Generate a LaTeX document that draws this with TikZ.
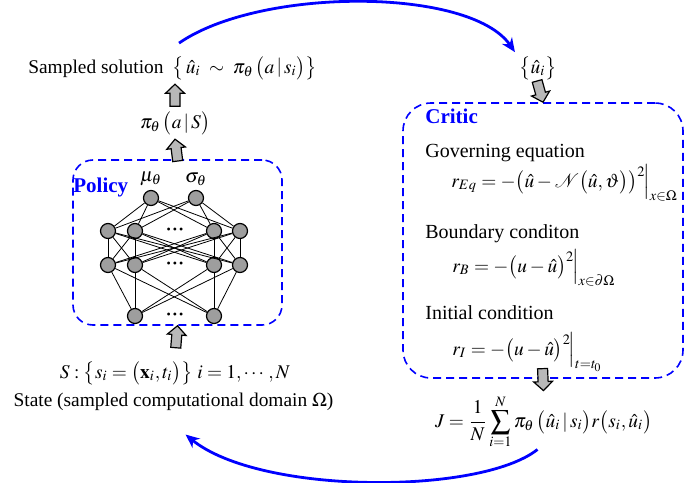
\documentclass[tikz,border=0pt]{standalone}
\usepackage{mathptmx}
\usepackage{amsmath}
\usepackage{fontspec}
\setmainfont{Liberation Serif}
\usepackage{xcolor}
\usepackage{tikz}
\usetikzlibrary{arrows.meta, positioning, calc}

\newcommand{\fs}{\fontsize{9.7}{11.6}\selectfont}
\newcommand{\nndots}{{\fontsize{6}{6}\selectfont\textbullet\hspace{1pt}\textbullet\hspace{1pt}\textbullet}}
% grey block arrow: tip at #2, pointing away from #1
\newcommand{\fatarrow}[2]{%
  \path ($(#2)!11pt!(#1)$) coordinate (fa-b) ($(#2)!4.5pt!(#1)$) coordinate (fa-h);
  \draw[fat] ($(fa-b)!2.5pt!90:(#2)$) -- ($(fa-h)!2.5pt!90:(#2)$) -- ($(fa-h)!4.7pt!90:(#2)$)
    -- (#2) -- ($(fa-h)!4.7pt!-90:(#2)$) -- ($(fa-h)!2.5pt!-90:(#2)$) -- ($(fa-b)!2.5pt!-90:(#2)$) -- cycle;}

\begin{document}
\begin{tikzpicture}[
  x=0.5pt, y=-0.5pt,
  txt/.style    = {font=\fs, inner sep=2pt},
  ctxt/.style   = {font=\fontsize{10}{12}\selectfont, inner sep=2pt},
  ttl/.style    = {font=\fontsize{10.5}{12}\selectfont\bfseries, text=blue, inner sep=2pt},
  dbox/.style   = {draw=blue, dash pattern=on 4pt off 2.5pt, line width=0.8pt, rounded corners=10pt},
  neuron/.style = {circle, draw, fill=black!38, line width=0.6pt, minimum size=7.5pt, inner sep=0pt},
  link/.style   = {line width=0.4pt},
  fat/.style    = {draw, line width=0.6pt, fill=black!28},
  flow/.style   = {draw=blue, line width=1.4pt, -{Stealth[length=7pt, width=6pt]}},
]
\useasboundingbox (0,0) rectangle (685,482);

% Left column - policy
\node[txt, anchor=base west] (sol) at (168,73) {$\bigl\{\,\hat{u}_i\;\sim\;\pi_\theta\,\bigl(a\,|\,s_i\bigr)\bigr\}$};
\node[txt, anchor=base east] (sollab) at (sol.base west) {Sampled solution};
\node[txt, anchor=base] (pi) at (175,128) {$\pi_\theta\,\bigl(a\,|\,S\bigr)$};

\node[dbox, minimum width=104.5pt, minimum height=82.5pt] (policy) at (177.5,242.5) {};
\node[ttl, anchor=base west] (ptitle) at (69,192) {Policy};

% network
\node[neuron, label={[txt]above:$\mu_\theta$}]    (o-1) at (151,198) {};
\node[neuron, label={[txt]above:$\sigma_\theta$}] (o-2) at (196,198) {};
\foreach \x [count=\k] in {108,135,214,240} {
  \node[neuron] (h1-\k) at (\x,231) {};
  \node[neuron] (h2-\k) at (\x,265) {};
}
\node[neuron] (in-1) at (135,316) {};
\node[neuron] (in-2) at (214,316) {};
\node[inner sep=0pt] (dots1) at (175,231) {\nndots};
\node[inner sep=0pt] (dots2) at (175,265) {\nndots};
\node[inner sep=0pt] (dots3) at (175,316) {\nndots};
\foreach \i in {1,...,4} {
  \foreach \j in {1,2} \draw[link] (o-\j) -- (h1-\i);
  \foreach \j in {1,...,4} \draw[link] (h1-\i) -- (h2-\j);
  \foreach \j in {1,2} \draw[link] (h2-\i) -- (in-\j);
}

\node[txt, anchor=base] (state) at (175,378) {$S:\bigl\{s_i=\bigl(\mathbf{x}_i,t_i\bigr)\bigr\}\ i=1,\cdots,N$};
\node[txt, anchor=base] (domain) at (173.5,406) {State (sampled computational domain $\Omega$)};

% Right column - critic
\node[txt, anchor=base] (hatu) at (538,73) {$\bigl\{\hat{u}_i\bigr\}$};
\node[dbox, rounded corners=14pt, minimum width=140pt, minimum height=137.5pt] (critic) at (543,240.5) {};
\node[ttl, anchor=base west] (ctitle) at (421,123) {Critic};
\node[ctxt, anchor=base west] (geq) at (421,157) {Governing equation};
\node[txt, anchor=base west] (req) at (447,187) {$r_{Eq}={-}\bigl(\hat{u}-\mathcal{N}\bigl(\hat{u},\vartheta\bigr)\bigr)^2\!\Big|_{x{\in}\Omega}$};
\node[ctxt, anchor=base west] (bc) at (421,238) {Boundary conditon};
\node[txt, anchor=base west] (rb) at (448,272) {$r_B={-}\bigl(u-\hat{u}\bigr)^2\!\Big|_{x{\in}\partial\Omega}$};
\node[ctxt, anchor=base west] (ic) at (421,319) {Initial condition};
\node[txt, anchor=base west] (ri) at (448,355) {$r_I={-}\bigl(u-\hat{u}\bigr)^2\!\Big|_{t=t_0}$};
\node[txt, anchor=base] (J) at (543.5,427) {$\displaystyle J=\frac{1}{N}\sum_{i=1}^{N}\pi_\theta\,\bigl(\hat{u}_i\,|\,s_i\bigr)r\bigl(s_i,\hat{u}_i\bigr)$};

% Block arrows
\fatarrow{pi.north}{pi.north |- sol.south}
\fatarrow{policy.north}{pi.south}
\fatarrow{state.north}{policy.south}
\fatarrow{hatu.south}{critic.north}
\fatarrow{critic.south}{J.north}

% Loop arrows
\coordinate (back) at ($(domain.south)+(6pt,-10pt)$);
\draw[flow] ($(sol.north west)+(5.5pt,4.5pt)$) .. controls (260,-13) and (470,-13) .. (hatu.north west);
\draw[flow] ($(J.south)+(-3pt,2pt)$) .. controls (480,495) and (260,495) .. (back);
\end{tikzpicture}
\end{document}
